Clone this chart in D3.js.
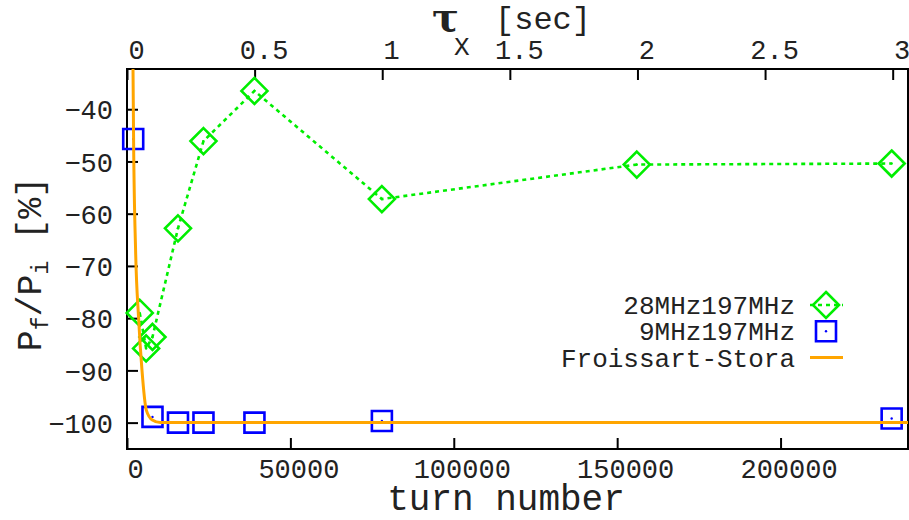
<!DOCTYPE html>
<html>
<head>
<meta charset="utf-8">
<script src="https://cdn.jsdelivr.net/npm/d3@7"></script>
<style>
  body { margin: 0; background: #fff; }
  text { font-family: "Liberation Mono", "DejaVu Sans Mono", monospace; fill: #222; }
</style>
</head>
<body>
<svg id="chart" width="909" height="520"></svg>
<script>
// 28MHz197MHz measurements
var turnsA = [3900, 5850, 7800, 15600, 23400, 39000, 78000, 156000, 234000];
var ratioA = [-79.0, -85.8, -83.6, -62.8, -46.1, -36.5, -57.2, -50.6, -50.4];

// 9MHz197MHz measurements
var turnsB = [1900, 7800, 15600, 23400, 39000, 78000, 234000];
var ratioB = [-45.7, -98.9, -100, -100, -100, -99.7, -99.2];

// Froissart-Stora curve
var fsTurns = [0, 1200, 1840, 2020, 2630, 3550, 4590, 5910, 7750, 10200, 15000, 239000];
var fsRatio = [100, -2, -32.3, -46, -67, -80, -90, -97.6, -99.5, -100, -100, -100];

var bottomTicks = [0, 50000, 100000, 150000, 200000];
var topTicks = [0, 0.5, 1, 1.5, 2, 2.5, 3];
var leftTicks = [-100, -90, -80, -70, -60, -50, -40];
var legendNames = ["28MHz197MHz", "9MHz197MHz", "Froissart-Stora"];

var svg = d3.select("#chart");
var pLeft = 127, pRight = 908, pTop = 69, pBottom = 449;

var x = d3.scaleLinear().domain([0, 239000]).range([pLeft, pRight]);
var x2 = d3.scaleLinear().domain([0, 3.06]).range([pLeft, pRight]);
var y = d3.scaleLinear().domain([-105.05, -32.3]).range([pBottom, pTop]);

svg.append("defs").append("clipPath").attr("id", "plotclip")
  .append("rect").attr("x", pLeft).attr("y", pTop)
  .attr("width", pRight - pLeft).attr("height", pBottom - pTop);

// axes with inward ticks
var gx = svg.append("g").attr("transform", "translate(0," + pBottom + ")")
  .call(d3.axisBottom(x).tickValues(bottomTicks).tickFormat(d3.format("d")).tickSize(-11));
var gx2 = svg.append("g").attr("transform", "translate(0," + pTop + ")")
  .call(d3.axisTop(x2).tickValues(topTicks).tickFormat(d3.format("")).tickSize(-11));
var gy = svg.append("g").attr("transform", "translate(" + pLeft + ",0)")
  .call(d3.axisLeft(y).tickValues(leftTicks).tickFormat(d3.format("")).tickSize(-11));

[gx, gx2, gy].forEach(function(g) {
  g.select(".domain").remove();
  g.selectAll(".tick line").attr("stroke", "#000").attr("stroke-width", 2);
  g.selectAll(".tick text").attr("font-family", null).attr("font-size", 27).style("fill", "#222");
});
gx.selectAll(".tick text").attr("x", 8).attr("y", 29).attr("dy", 0);
gx2.selectAll(".tick text").attr("x", 9).attr("y", -10).attr("dy", 0);
gy.selectAll(".tick text").attr("x", -14).attr("dy", "0.36em");

// frame
svg.append("rect").attr("x", pLeft).attr("y", pTop)
  .attr("width", pRight - pLeft).attr("height", pBottom - pTop)
  .attr("fill", "none").attr("stroke", "#000").attr("stroke-width", 2);

var plot = svg.append("g").attr("clip-path", "url(#plotclip)");
var marks = svg.append("g");

var green = "#00ee00", blue = "#0000ff", orange = "#ffa500";

// green dotted line + diamonds
var lineA = d3.line().x(function(d, i) { return x(turnsA[i]); }).y(function(d) { return y(d); });
plot.append("path").datum(ratioA).attr("d", lineA)
  .attr("fill", "none").attr("stroke", green).attr("stroke-width", 2.6)
  .attr("stroke-dasharray", "4,4");

var diamond = "M0,-13L13,0L0,13L-13,0Z";
var square = "M-10,-10H10V10H-10Z";

marks.selectAll(".ptA").data(ratioA).enter().append("path")
  .attr("class", "ptA")
  .attr("transform", function(d, i) { return "translate(" + x(turnsA[i]) + "," + y(d) + ")"; })
  .attr("d", diamond).attr("fill", "none").attr("stroke", green).attr("stroke-width", 2.6);
marks.selectAll(".dotA").data(ratioA).enter().append("circle")
  .attr("class", "dotA")
  .attr("cx", function(d, i) { return x(turnsA[i]); }).attr("cy", function(d) { return y(d); })
  .attr("r", 1.2).attr("fill", green);

// blue squares (not clipped, the first one sticks out of the frame)
marks.selectAll(".ptB").data(ratioB).enter().append("path")
  .attr("class", "ptB")
  .attr("transform", function(d, i) { return "translate(" + x(turnsB[i]) + "," + y(d) + ")"; })
  .attr("d", square).attr("fill", "none").attr("stroke", blue).attr("stroke-width", 2.6);
marks.selectAll(".dotB").data(ratioB).enter().append("circle")
  .attr("class", "dotB")
  .attr("cx", function(d, i) { return x(turnsB[i]); }).attr("cy", function(d) { return y(d); })
  .attr("r", 1.2).attr("fill", blue);

// Froissart-Stora curve
var lineFS = d3.line().curve(d3.curveMonotoneX)
  .x(function(d, i) { return x(fsTurns[i]); }).y(function(d) { return y(d); });
svg.append("g").attr("clip-path", "url(#plotclip)")
  .append("path").datum(fsRatio).attr("d", lineFS)
  .attr("fill", "none").attr("stroke", orange).attr("stroke-width", 3);

// legend
var lg = svg.append("g");
legendNames.forEach(function(name, i) {
  var ly = 305 + i * 26.3;
  lg.append("text").attr("x", 795).attr("y", ly).attr("dy", "0.35em")
    .attr("text-anchor", "end").attr("font-size", 26).text(name);
});
lg.append("line").attr("x1", 810).attr("x2", 843).attr("y1", 305).attr("y2", 305)
  .attr("stroke", green).attr("stroke-width", 2.6).attr("stroke-dasharray", "4,4");
lg.append("path").attr("transform", "translate(826,305)").attr("d", diamond)
  .attr("fill", "none").attr("stroke", green).attr("stroke-width", 2.6);
lg.append("path").attr("transform", "translate(826,331.3)").attr("d", square)
  .attr("fill", "none").attr("stroke", blue).attr("stroke-width", 2.6);
lg.append("circle").attr("cx", 826).attr("cy", 331.3).attr("r", 1.2).attr("fill", blue);
lg.append("line").attr("x1", 810).attr("x2", 843).attr("y1", 357.6).attr("y2", 357.6)
  .attr("stroke", orange).attr("stroke-width", 3);

// axis titles
svg.append("text").attr("x", 506).attr("y", 510).attr("text-anchor", "middle")
  .attr("font-size", 36).text("turn number");

svg.append("text").attr("x", 432).attr("y", 31)
  .style("font-family", "DejaVu Serif")
  .attr("font-size", 40).attr("font-weight", "bold").text("τ");
svg.append("text").attr("x", 454).attr("y", 55).attr("font-size", 26).text("X");
svg.append("text").attr("x", 495).attr("y", 29).attr("font-size", 32).text("[sec]");

var yl = svg.append("text").attr("transform", "translate(41,264) rotate(-90)")
  .attr("text-anchor", "middle").attr("font-size", 35);
yl.append("tspan").text("P");
yl.append("tspan").attr("font-size", 23).attr("dy", 7).text("f");
yl.append("tspan").attr("dy", -7).text("/P");
yl.append("tspan").attr("font-size", 23).attr("dy", 7).text("i");
yl.append("tspan").attr("dy", -7).text(" [%]");
</script>
</body>
</html>
